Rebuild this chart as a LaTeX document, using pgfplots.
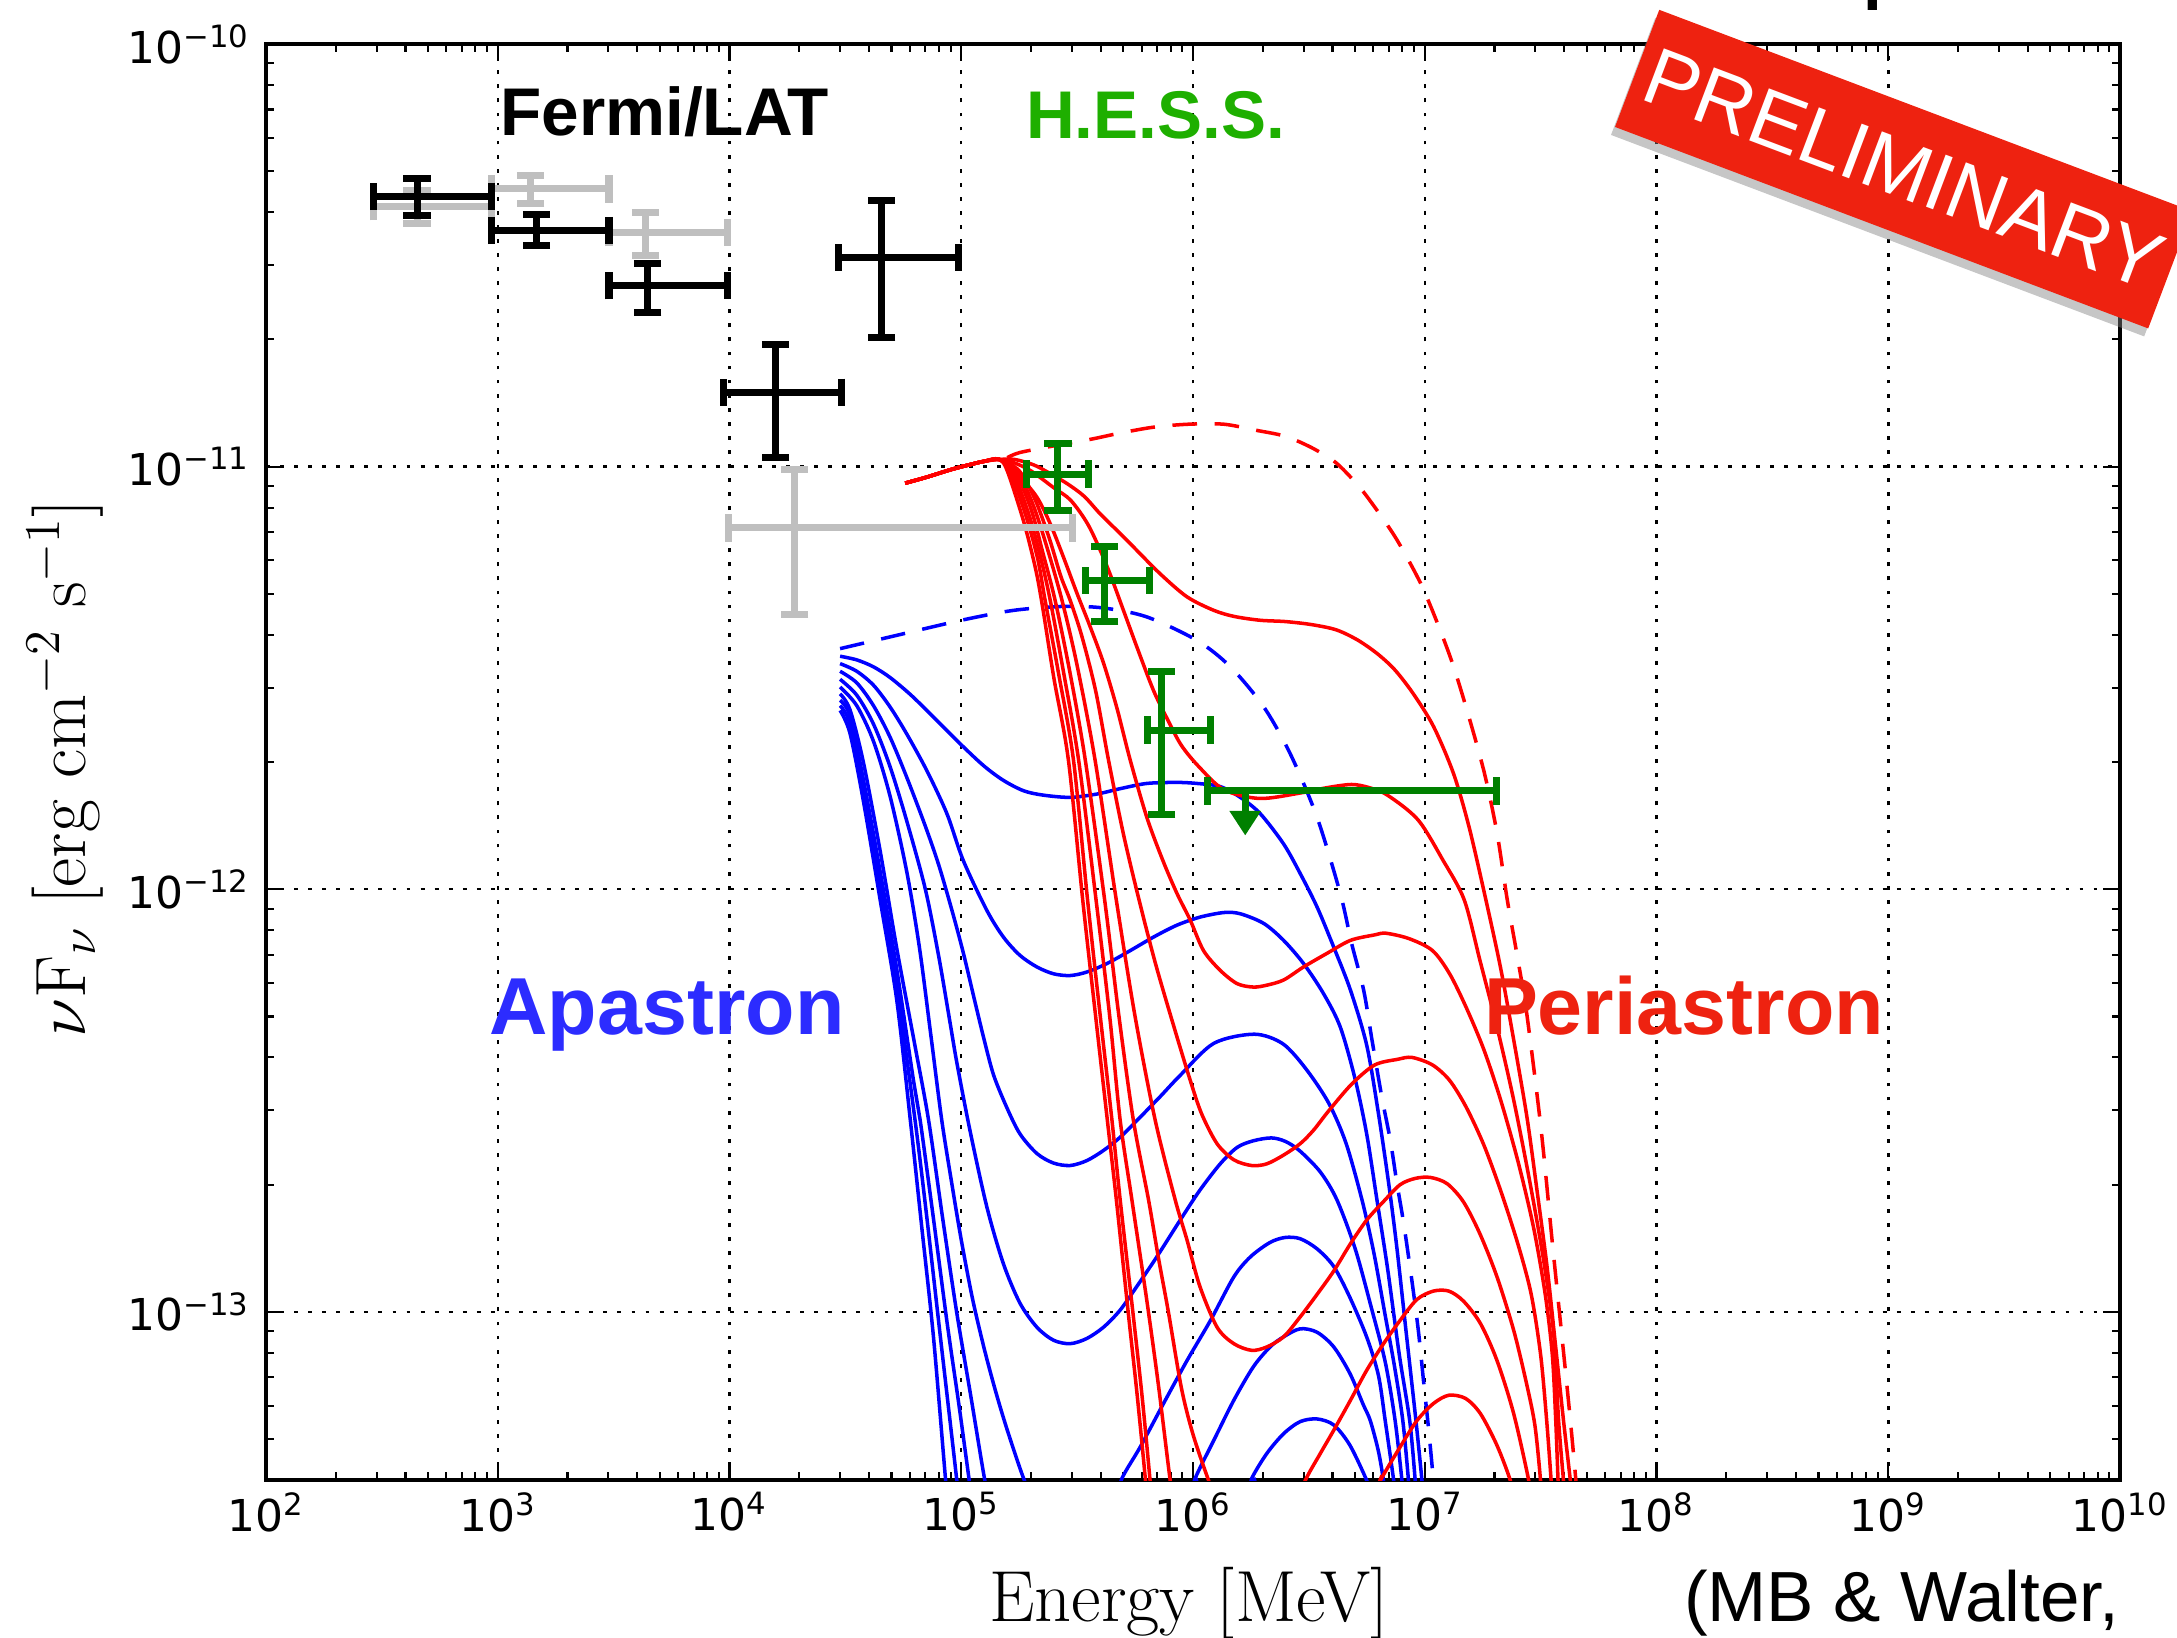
\documentclass[border=0pt]{standalone}
\usepackage{fix-cm}
\usepackage{fontspec}
\usepackage{pgfplots}
\pgfplotsset{compat=1.18}
\usetikzlibrary{arrows.meta,shadows}
\newfontfamily\helv{Liberation Sans}
\newfontfamily\dejavu{DejaVu Sans}
\definecolor{hessg}{RGB}{30,175,0}
\definecolor{apblue}{RGB}{44,44,255}
\definecolor{perired}{RGB}{238,34,16}
\definecolor{mplgreen}{RGB}{0,128,0}
\definecolor{mplgray}{RGB}{191,191,191}
\pgfplotsset{
  bl/.style={color=blue, line width=1.0pt, smooth, tension=0.5},
  rd/.style={color=red, line width=1.0pt, smooth, tension=0.5},
  errpt/.style={only marks, mark=*, mark size=0pt, line width=2.0pt,
    error bars/.cd, x dir=both, x explicit, y dir=both, y explicit,
    error bar style={line width=2.0pt},
    error mark options={rotate=90, line width=2.0pt, mark size=3.9pt}},
}
\begin{document}
\begin{tikzpicture}
\useasboundingbox (0,0) rectangle (217.7mm,163.8mm);
\begin{axis}[
  at={(26.6mm,15.8mm)}, anchor=south west,
  width=185.4mm, height=143.6mm, scale only axis,
  xmode=log, ymode=log,
  xmin=1e2, xmax=1e10, ymin=4e-14, ymax=1e-10,
  xtick={1e2,1e3,1e4,1e5,1e6,1e7,1e8,1e9,1e10},
  xticklabels={10\textsuperscript{2},10\textsuperscript{3},10\textsuperscript{4},10\textsuperscript{5},10\textsuperscript{6},10\textsuperscript{7},10\textsuperscript{8},10\textsuperscript{9},10\textsuperscript{10}},
  ytick={1e-13,1e-12,1e-11,1e-10},
  yticklabels={10\textsuperscript{−13},10\textsuperscript{−12},10\textsuperscript{−11},10\textsuperscript{−10}},
  minor xtick={2e2,3e2,4e2,5e2,6e2,7e2,8e2,9e2,2e3,3e3,4e3,5e3,6e3,7e3,8e3,9e3,2e4,3e4,4e4,5e4,6e4,7e4,8e4,9e4,2e5,3e5,4e5,5e5,6e5,7e5,8e5,9e5,2e6,3e6,4e6,5e6,6e6,7e6,8e6,9e6,2e7,3e7,4e7,5e7,6e7,7e7,8e7,9e7,2e8,3e8,4e8,5e8,6e8,7e8,8e8,9e8,2e9,3e9,4e9,5e9,6e9,7e9,8e9,9e9},
  minor ytick={5e-14,6e-14,7e-14,8e-14,9e-14,2e-13,3e-13,4e-13,5e-13,6e-13,7e-13,8e-13,9e-13,2e-12,3e-12,4e-12,5e-12,6e-12,7e-12,8e-12,9e-12,2e-11,3e-11,4e-11,5e-11,6e-11,7e-11,8e-11,9e-11},
  tick label style={font=\fontsize{12.5}{14}\dejavu},
  yticklabel style={xshift=-1pt},
  tick align=inside,
  major tick length=4.8pt, minor tick length=2.4pt,
  every tick/.style={black, line width=0.6pt},
  axis line style={line width=1.1pt},
  xmajorgrids, ymajorgrids,
  major grid style={black, line width=0.7pt, dash pattern=on 1.1pt off 2.9pt},
  xlabel={Energy [MeV]},
  xlabel style={font=\fontsize{20.6}{22}\selectfont, at={(axis description cs:0.4978,-0.0987)}, anchor=base},
  ylabel={$\nu\mathrm{F}_\nu\ [\mathrm{erg\ cm^{-2}\ s^{-1}}]$},
  ylabel style={font=\fontsize{20.3}{22}\selectfont, at={(axis description cs:-0.0976,0.4955)}, anchor=base},
]
% ---------------- blue (apastron) ----------------
\addplot[bl, dash pattern=on 7pt off 5pt] coordinates {(3.0e4,3.71e-12) (5.27e4,3.99e-12) (1.0e5,4.33e-12) (1.68e5,4.57e-12) (2.76e5,4.67e-12) (4.11e5,4.63e-12) (6.32e5,4.41e-12) (1.04e6,3.88e-12) (1.45e6,3.36e-12) (2.02e6,2.70e-12) (2.63e6,2.09e-12) (3.43e6,1.48e-12) (4.32e6,9.77e-13) (4.84e6,7.43e-13) (5.45e6,5.77e-13) (5.92e6,4.40e-13) (6.53e6,3.22e-13) (7.10e6,2.55e-13) (7.59e6,2.01e-13) (8.11e6,1.62e-13) (8.81e6,1.18e-13) (9.40e6,8.95e-14) (9.89e6,6.82e-14) (1.04e7,5.25e-14) (1.09e7,3.98e-14) (1.11e7,3.39e-14)};
\addplot[bl] coordinates {(3.0e4,3.56e-12) (3.54e4,3.49e-12) (4.18e4,3.36e-12) (4.93e4,3.17e-12) (6.03e4,2.89e-12) (7.35e4,2.60e-12) (9.89e4,2.21e-12) (1.25e5,1.96e-12) (1.52e5,1.81e-12) (1.86e5,1.71e-12) (2.26e5,1.67e-12) (2.95e5,1.65e-12) (3.85e5,1.68e-12) (4.85e5,1.73e-12) (6.32e5,1.78e-12) (8.51e5,1.79e-12) (1.04e6,1.78e-12) (1.31e6,1.75e-12) (1.60e6,1.65e-12) (1.95e6,1.51e-12) (2.46e6,1.28e-12) (2.90e6,1.09e-12) (3.43e6,9.08e-13) (4.05e6,7.29e-13) (4.78e6,5.77e-13) (5.62e6,4.27e-13) (6.31e6,2.95e-13) (7.00e6,2.00e-13) (7.59e6,1.41e-13) (8.32e6,8.91e-14) (9.16e6,5.53e-14) (9.73e6,3.98e-14) (9.89e6,3.55e-14)};
\addplot[bl] coordinates {(3.0e4,3.42e-12) (3.54e4,3.28e-12) (4.18e4,3.04e-12) (4.93e4,2.70e-12) (5.82e4,2.33e-12) (7.10e4,1.91e-12) (8.67e4,1.51e-12) (1.02e5,1.17e-12) (1.29e5,8.91e-13) (1.52e5,7.71e-13) (1.79e5,6.98e-13) (2.12e5,6.55e-13) (2.50e5,6.31e-13) (2.95e5,6.25e-13) (3.48e5,6.37e-13) (4.25e5,6.67e-13) (5.36e5,7.16e-13) (6.76e5,7.71e-13) (8.51e5,8.22e-13) (1.07e6,8.59e-13) (1.36e6,8.81e-13) (1.60e6,8.75e-13) (2.02e6,8.30e-13) (2.46e6,7.57e-13) (3.00e6,6.67e-13) (3.66e6,5.66e-13) (4.32e6,4.72e-13) (5.01e6,3.55e-13) (5.62e6,2.63e-13) (6.22e6,1.84e-13) (6.92e6,1.26e-13) (7.76e6,7.94e-14) (8.61e6,5.53e-14) (9.10e6,3.98e-14) (9.23e6,3.55e-14)};
\addplot[bl] coordinates {(3.0e4,3.28e-12) (3.54e4,3.08e-12) (4.18e4,2.72e-12) (4.93e4,2.29e-12) (5.82e4,1.84e-12) (7.00e4,1.41e-12) (8.00e4,1.14e-12) (9.12e4,8.91e-13) (1.02e5,7.08e-13) (1.15e5,5.37e-13) (1.26e5,4.37e-13) (1.38e5,3.63e-13) (1.57e5,3.05e-13) (1.79e5,2.64e-13) (2.12e5,2.37e-13) (2.50e5,2.25e-13) (2.95e5,2.22e-13) (3.48e5,2.28e-13) (4.11e5,2.41e-13) (4.85e5,2.59e-13) (5.92e5,2.89e-13) (7.21e5,3.23e-13) (8.81e5,3.63e-13) (1.23e6,4.32e-13) (1.84e6,4.54e-13) (2.44e6,4.31e-13) (3.07e6,3.76e-13) (3.85e6,3.12e-13) (4.57e6,2.51e-13) (5.36e6,1.84e-13) (6.03e6,1.38e-13) (6.76e6,9.77e-14) (7.41e6,7.41e-14) (8.04e6,5.53e-14) (8.51e6,3.98e-14) (8.61e6,3.55e-14)};
\addplot[bl] coordinates {(3.0e4,3.14e-12) (3.54e4,2.88e-12) (4.18e4,2.46e-12) (4.93e4,1.95e-12) (5.82e4,1.45e-12) (7.00e4,1.0e-12) (8.00e4,6.92e-13) (8.91e4,4.90e-13) (9.57e4,3.89e-13) (1.09e5,2.69e-13) (1.29e5,1.77e-13) (1.52e5,1.30e-13) (1.79e5,1.05e-13) (2.12e5,9.20e-14) (2.50e5,8.57e-14) (2.95e5,8.41e-14) (3.48e5,8.65e-14) (4.11e5,9.20e-14) (4.85e5,1.01e-13) (5.73e5,1.15e-13) (6.98e5,1.35e-13) (8.81e5,1.65e-13) (1.07e6,1.94e-13) (1.31e6,2.24e-13) (1.55e6,2.45e-13) (1.82e6,2.54e-13) (2.18e6,2.58e-13) (2.51e6,2.53e-13) (2.90e6,2.40e-13) (3.55e6,2.14e-13) (4.18e6,1.84e-13) (5.01e6,1.41e-13) (5.89e6,1.02e-13) (6.76e6,7.59e-14) (7.45e6,5.53e-14) (7.98e6,3.98e-14) (8.13e6,3.55e-14)};
\addplot[bl] coordinates {(3.0e4,3.01e-12) (3.54e4,2.72e-12) (4.18e4,2.24e-12) (4.93e4,1.66e-12) (5.82e4,1.10e-12) (6.61e4,7.24e-13) (7.41e4,4.47e-13) (8.24e4,2.84e-13) (9.12e4,2.00e-13) (1.0e5,1.48e-13) (1.12e5,1.07e-13) (1.26e5,8.13e-14) (1.41e5,6.46e-14) (1.58e5,5.25e-14) (1.86e5,4.03e-14) (2.14e5,3.39e-14) (2.95e5,2.51e-14) (4.47e5,3.39e-14) (4.93e5,4.03e-14) (5.92e5,4.79e-14) (7.46e5,6.07e-14) (9.42e5,7.67e-14) (1.19e6,9.55e-14) (1.50e6,1.21e-13) (1.77e6,1.35e-13) (2.15e6,1.46e-13) (2.50e6,1.50e-13) (2.90e6,1.49e-13) (3.43e6,1.41e-13) (4.05e6,1.28e-13) (4.76e6,1.08e-13) (5.62e6,8.71e-14) (6.31e6,7.08e-14) (6.75e6,5.53e-14) (7.35e6,3.98e-14) (7.50e6,3.55e-14)};
\addplot[bl] coordinates {(3.0e4,2.90e-12) (3.31e4,2.66e-12) (3.78e4,2.00e-12) (4.47e4,1.23e-12) (5.27e4,7.24e-13) (6.31e4,4.27e-13) (7.23e4,2.84e-13) (8.32e4,1.66e-13) (9.55e4,1.0e-13) (1.10e5,6.31e-14) (1.26e5,4.03e-14) (1.38e5,3.16e-14) (3.16e5,1.0e-14) (9.55e5,3.55e-14) (1.02e6,4.03e-14) (1.23e6,4.97e-14) (1.50e6,6.18e-14) (1.82e6,7.41e-14) (2.15e6,8.26e-14) (2.46e6,8.73e-14) (2.90e6,9.12e-14) (3.43e6,8.95e-14) (4.05e6,8.26e-14) (4.76e6,7.14e-14) (5.43e6,6.03e-14) (5.82e6,5.53e-14) (6.31e6,4.68e-14) (6.64e6,3.98e-14) (6.76e6,3.55e-14)};
\addplot[bl] coordinates {(3.0e4,2.80e-12) (3.31e4,2.57e-12) (3.78e4,1.82e-12) (4.47e4,1.10e-12) (5.27e4,6.46e-13) (6.22e4,3.53e-13) (6.65e4,2.84e-13) (7.59e4,1.66e-13) (8.71e4,9.33e-14) (9.77e4,6.03e-14) (1.08e5,4.03e-14) (1.15e5,3.16e-14) (3.98e5,1.0e-14) (1.66e6,3.55e-14) (1.79e6,4.03e-14) (2.08e6,4.62e-14) (2.46e6,5.15e-14) (2.90e6,5.50e-14) (3.43e6,5.58e-14) (4.05e6,5.40e-14) (4.76e6,4.83e-14) (5.62e6,3.99e-14) (5.82e6,3.72e-14)};
\addplot[bl] coordinates {(3.0e4,2.72e-12) (3.31e4,2.46e-12) (3.78e4,1.71e-12) (4.47e4,1.01e-12) (5.27e4,5.87e-13) (6.32e4,2.84e-13) (7.08e4,1.70e-13) (8.13e4,8.71e-14) (9.55e4,4.03e-14) (1.0e5,3.16e-14)};
\addplot[bl] coordinates {(3.0e4,2.65e-12) (3.31e4,2.34e-12) (3.78e4,1.62e-12) (4.47e4,9.42e-13) (5.27e4,5.46e-13) (6.03e4,2.84e-13) (6.76e4,1.58e-13) (7.59e4,8.71e-14) (8.55e4,4.03e-14) (8.91e4,3.16e-14)};
% ---------------- red (periastron) ----------------
\addplot[rd, dash pattern=on 7pt off 5pt] coordinates {(1.58e5,1.05e-11) (1.79e5,1.08e-11) (2.51e5,1.12e-11) (3.60e5,1.16e-11) (4.82e5,1.20e-11) (6.76e5,1.24e-11) (9.55e5,1.26e-11) (1.36e6,1.26e-11) (1.86e6,1.22e-11) (2.50e6,1.18e-11) (3.24e6,1.11e-11) (4.06e6,1.03e-11) (4.79e6,9.44e-12) (5.64e6,8.49e-12) (7.45e6,6.82e-12) (9.59e6,5.30e-12) (1.15e7,4.18e-12) (1.33e7,3.37e-12) (1.55e7,2.56e-12) (1.81e7,1.88e-12) (2.05e7,1.36e-12) (2.27e7,9.44e-13) (2.51e7,6.92e-13) (2.76e7,5.04e-13) (3.18e7,2.69e-13) (3.56e7,1.44e-13) (4.00e7,7.71e-14) (4.25e7,5.53e-14) (4.49e7,3.98e-14) (4.58e7,3.39e-14)};
\addplot[rd] coordinates {(5.73e4,9.14e-12) (7.08e4,9.44e-12) (8.91e4,9.82e-12) (1.08e5,1.01e-11) (1.26e5,1.03e-11) (1.46e5,1.04e-11) (1.70e5,1.04e-11) (2.05e5,1.01e-11) (2.34e5,9.73e-12) (2.86e5,9.12e-12) (3.39e5,8.51e-12) (3.97e5,7.74e-12) (4.68e5,7.08e-12) (5.53e5,6.46e-12) (7.21e5,5.58e-12) (9.42e5,4.92e-12) (1.23e6,4.57e-12) (1.51e6,4.42e-12) (1.95e6,4.33e-12) (2.50e6,4.30e-12) (3.24e6,4.23e-12) (4.15e6,4.11e-12) (5.13e6,3.89e-12) (6.24e6,3.61e-12) (7.41e6,3.31e-12) (8.89e6,2.91e-12) (1.09e7,2.43e-12) (1.33e7,1.88e-12) (1.55e7,1.41e-12) (1.81e7,9.77e-13) (2.12e7,6.55e-13) (2.42e7,4.40e-13) (2.76e7,2.89e-13) (3.05e7,1.94e-13) (3.37e7,1.28e-13) (3.66e7,8.41e-14) (3.97e7,5.53e-14) (4.25e7,3.98e-14) (4.32e7,3.55e-14)};
\addplot[rd] coordinates {(5.73e4,9.14e-12) (7.08e4,9.44e-12) (8.91e4,9.82e-12) (1.08e5,1.01e-11) (1.26e5,1.03e-11) (1.46e5,1.04e-11) (1.70e5,1.02e-11) (2.00e5,9.77e-12) (2.51e5,8.91e-12) (2.97e5,8.32e-12) (3.55e5,7.24e-12) (4.25e5,5.82e-12) (5.01e5,4.57e-12) (5.75e5,3.72e-12) (6.76e5,2.95e-12) (7.80e5,2.51e-12) (8.91e5,2.19e-12) (1.06e6,1.95e-12) (1.36e6,1.72e-12) (1.94e6,1.64e-12) (2.91e6,1.69e-12) (3.80e6,1.74e-12) (4.84e6,1.77e-12) (5.75e6,1.74e-12) (6.90e6,1.67e-12) (9.35e6,1.46e-12) (1.20e7,1.17e-12) (1.48e7,9.44e-13) (1.73e7,6.79e-13) (2.05e7,4.72e-13) (2.42e7,3.17e-13) (2.85e7,2.01e-13) (3.26e7,1.32e-13) (3.60e7,8.87e-14) (3.78e7,5.53e-14) (3.97e7,3.98e-14) (4.03e7,3.55e-14)};
\addplot[rd] coordinates {(5.73e4,9.14e-12) (7.08e4,9.44e-12) (8.91e4,9.82e-12) (1.08e5,1.01e-11) (1.26e5,1.03e-11) (1.46e5,1.04e-11) (1.79e5,9.46e-12) (2.12e5,8.47e-12) (2.42e5,7.33e-12) (2.76e5,6.11e-12) (3.16e5,5.01e-12) (3.60e5,4.18e-12) (4.11e5,3.43e-12) (4.69e5,2.69e-12) (5.36e5,2.02e-12) (6.32e5,1.48e-12) (7.41e5,1.17e-12) (8.53e5,9.77e-13) (9.73e5,8.45e-13) (1.11e6,7.16e-13) (1.31e6,6.43e-13) (1.55e6,5.98e-13) (1.82e6,5.87e-13) (2.08e6,5.93e-13) (2.46e6,6.10e-13) (3.00e6,6.55e-13) (3.78e6,7.05e-13) (4.78e6,7.57e-13) (6.08e6,7.80e-13) (6.81e6,7.87e-13) (8.57e6,7.64e-13) (1.08e7,7.16e-13) (1.28e7,6.31e-13) (1.51e7,5.25e-13) (1.80e7,4.17e-13) (2.13e7,3.16e-13) (2.53e7,2.26e-13) (2.95e7,1.58e-13) (3.31e7,1.10e-13) (3.55e7,7.94e-14) (3.67e7,5.62e-14) (3.76e7,3.98e-14) (3.80e7,3.40e-14)};
\addplot[rd] coordinates {(5.73e4,9.14e-12) (7.08e4,9.44e-12) (8.91e4,9.82e-12) (1.08e5,1.01e-11) (1.26e5,1.03e-11) (1.46e5,1.04e-11) (1.78e5,9.77e-12) (2.09e5,8.32e-12) (2.40e5,6.76e-12) (2.69e5,5.50e-12) (2.95e5,4.83e-12) (3.31e5,3.98e-12) (3.80e5,2.95e-12) (4.32e5,2.02e-12) (5.01e5,1.35e-12) (5.86e5,9.40e-13) (6.92e5,6.61e-13) (8.32e5,4.68e-13) (9.73e5,3.53e-13) (1.09e6,2.94e-13) (1.27e6,2.50e-13) (1.50e6,2.29e-13) (1.79e6,2.22e-13) (2.08e6,2.24e-13) (2.46e6,2.35e-13) (2.90e6,2.50e-13) (3.31e6,2.69e-13) (3.85e6,2.99e-13) (4.84e6,3.46e-13) (6.08e6,3.84e-13) (7.64e6,3.96e-13) (8.81e6,4.00e-13) (1.08e7,3.84e-13) (1.28e7,3.53e-13) (1.51e7,3.05e-13) (1.80e7,2.48e-13) (2.13e7,1.93e-13) (2.53e7,1.44e-13) (2.88e7,1.10e-13) (3.16e7,7.94e-14) (3.35e7,5.62e-14) (3.51e7,3.98e-14) (3.55e7,3.40e-14)};
\addplot[rd] coordinates {(5.73e4,9.14e-12) (7.08e4,9.44e-12) (8.91e4,9.82e-12) (1.08e5,1.01e-11) (1.26e5,1.03e-11) (1.46e5,1.04e-11) (1.74e5,9.77e-12) (2.04e5,8.13e-12) (2.34e5,6.46e-12) (2.72e5,4.83e-12) (3.16e5,3.39e-12) (3.78e5,2.02e-12) (4.67e5,9.40e-13) (5.62e5,5.01e-13) (6.87e5,2.84e-13) (8.38e5,1.84e-13) (9.42e5,1.48e-13) (1.07e6,1.15e-13) (1.27e6,9.20e-14) (1.50e6,8.41e-14) (1.79e6,8.11e-14) (2.08e6,8.26e-14) (2.46e6,8.73e-14) (2.90e6,9.73e-14) (3.43e6,1.10e-13) (4.05e6,1.25e-13) (4.78e6,1.45e-13) (5.62e6,1.65e-13) (6.61e6,1.82e-13) (7.83e6,2.00e-13) (9.12e6,2.07e-13) (1.06e7,2.08e-13) (1.25e7,2.01e-13) (1.47e7,1.82e-13) (1.73e7,1.53e-13) (2.05e7,1.21e-13) (2.42e7,9.04e-14) (2.75e7,6.76e-14) (2.99e7,5.37e-14) (3.16e7,3.98e-14) (3.20e7,3.40e-14)};
\addplot[rd] coordinates {(5.73e4,9.14e-12) (7.08e4,9.44e-12) (8.91e4,9.82e-12) (1.08e5,1.01e-11) (1.26e5,1.03e-11) (1.46e5,1.04e-11) (1.70e5,9.77e-12) (2.00e5,7.94e-12) (2.24e5,6.31e-12) (2.54e5,4.83e-12) (2.95e5,3.24e-12) (3.43e5,2.02e-12) (4.16e5,9.40e-13) (4.79e5,5.01e-13) (5.53e5,2.84e-13) (6.43e5,1.84e-13) (7.08e5,1.35e-13) (7.83e5,1.0e-13) (8.91e5,6.61e-14) (1.0e6,5.13e-14) (1.17e6,3.98e-14) (1.32e6,3.39e-14) (2.0e6,2.0e-14) (2.82e6,3.47e-14) (3.05e6,3.99e-14) (3.54e6,4.62e-14) (4.05e6,5.25e-14) (4.78e6,6.18e-14) (5.62e6,7.28e-14) (6.64e6,8.41e-14) (7.83e6,9.55e-14) (9.25e6,1.07e-13) (1.09e7,1.12e-13) (1.27e7,1.12e-13) (1.47e7,1.06e-13) (1.74e7,9.38e-14) (2.05e7,7.67e-14) (2.42e7,5.74e-14) (2.81e7,3.99e-14) (2.88e7,3.55e-14)};
\addplot[rd] coordinates {(5.73e4,9.14e-12) (7.08e4,9.44e-12) (8.91e4,9.82e-12) (1.08e5,1.01e-11) (1.26e5,1.03e-11) (1.46e5,1.04e-11) (1.66e5,9.77e-12) (1.95e5,7.76e-12) (2.19e5,6.17e-12) (2.42e5,4.83e-12) (2.75e5,3.31e-12) (3.21e5,2.02e-12) (3.82e5,9.40e-13) (4.37e5,5.01e-13) (4.85e5,2.84e-13) (5.45e5,1.84e-13) (6.31e5,1.07e-13) (7.08e5,6.76e-14) (7.98e5,3.98e-14) (8.51e5,3.16e-14) (2.51e6,1.0e-14) (6.03e6,3.63e-14) (6.43e6,3.99e-14) (7.83e6,4.79e-14) (9.25e6,5.53e-14) (1.09e7,6.07e-14) (1.27e7,6.35e-14) (1.50e7,6.24e-14) (1.74e7,5.74e-14) (2.05e7,4.83e-14) (2.34e7,3.99e-14) (2.43e7,3.55e-14)};
\addplot[rd] coordinates {(5.73e4,9.14e-12) (7.08e4,9.44e-12) (8.91e4,9.82e-12) (1.08e5,1.01e-11) (1.26e5,1.03e-11) (1.46e5,1.04e-11) (1.62e5,9.77e-12) (1.91e5,7.59e-12) (2.14e5,6.03e-12) (2.30e5,4.83e-12) (2.63e5,3.24e-12) (3.05e5,2.02e-12) (3.51e5,9.40e-13) (3.98e5,5.01e-13) (4.47e5,2.84e-13) (4.85e5,1.84e-13) (5.50e5,1.0e-13) (6.03e5,6.31e-14) (6.53e5,3.98e-14) (6.76e5,3.16e-14)};
\addplot[rd] coordinates {(5.73e4,9.14e-12) (7.08e4,9.44e-12) (8.91e4,9.82e-12) (1.08e5,1.01e-11) (1.26e5,1.03e-11) (1.46e5,1.04e-11) (1.58e5,9.77e-12) (1.86e5,7.41e-12) (2.09e5,5.75e-12) (2.24e5,4.68e-12) (2.51e5,3.16e-12) (2.90e5,2.02e-12) (3.35e5,9.33e-13) (3.80e5,5.01e-13) (4.27e5,2.84e-13) (4.68e5,1.82e-13) (5.25e5,1.0e-13) (5.75e5,6.31e-14) (6.24e5,3.98e-14) (6.46e5,3.16e-14)};
% ---------------- Fermi/LAT ----------------
\addplot[mplgray, errpt] coordinates {
 (449,4.12e-11) += (493,0.39e-11) -= (157,0.36e-11)
 (1387,4.54e-11) += (1633,0.35e-11) -= (445,0.34e-11)
 (4340,3.58e-11) += (5430,0.42e-11) -= (1320,0.42e-11)
 (1.91e4,7.16e-12) += (2.839e5,2.71e-12) -= (9200,2.68e-12)
};
\addplot[black, errpt] coordinates {
 (449,4.36e-11) += (493,0.44e-11) -= (157,0.43e-11)
 (1470,3.62e-11) += (1550,0.33e-11) -= (528,0.29e-11)
 (4430,2.68e-11) += (5340,0.34e-11) -= (1410,0.37e-11)
 (1.58e4,1.50e-11) += (14500,0.45e-11) -= (6400,0.45e-11)
 (4.53e4,3.13e-11) += (51700,1.14e-11) -= (15900,1.11e-11)
};
% ---------------- H.E.S.S. ----------------
\addplot[mplgreen, errpt] coordinates {
 (2.61e5,9.6e-12) += (9.2e4,1.73e-12) -= (6.9e4,1.71e-12)
 (4.16e5,5.38e-12) += (2.34e5,1.08e-12) -= (7.1e4,1.09e-12)
 (7.33e5,2.38e-12) += (4.57e5,0.89e-12) -= (9.9e4,0.88e-12)
};
\addplot[mplgreen, only marks, mark=*, mark size=0pt, line width=2.0pt, error bars/.cd, x dir=both, x explicit,
  error bar style={line width=2.0pt}, error mark options={rotate=90, line width=2.0pt, mark size=3.9pt}]
  coordinates {(1.68e6,1.71e-12) += (1.872e7,0) -= (5.2e5,0)};
\addplot[mplgreen, line width=2.0pt, -{Triangle[width=8.5pt,length=7pt]}] coordinates {(1.68e6,1.71e-12) (1.68e6,1.34e-12)};
% ---------------- annotations ----------------
\node[anchor=base west, inner sep=0pt, font=\fontsize{19.2}{21}\helv\bfseries] at (axis cs:1.02e3,6.09e-11) {Fermi/LAT};
\node[anchor=base west, inner sep=0pt, text=hessg, font=\fontsize{19.2}{21}\helv\bfseries] at (axis cs:1.89e5,5.97e-11) {H.E.S.S.};
\node[anchor=base west, inner sep=0pt, text=apblue, font=\fontsize{23}{25}\helv\bfseries] at (axis cs:916,4.54e-13) {Apastron};
\node[anchor=base west, inner sep=0pt, text=perired, font=\fontsize{23}{25}\helv\bfseries] at (axis cs:1.79e7,4.54e-13) {Periastron};
\end{axis}
\node[anchor=base east, inner sep=0pt, font=\fontsize{20.2}{22}\helv] at (212.0mm,1.63mm) {(MB \& Walter,};
\node[anchor=base west, inner sep=0pt, font=\fontsize{19.2}{21}\helv\bfseries] at (186.3mm,164.1mm) {p};
\node[rotate=-20.7, fill=perired, minimum width=57.0mm, minimum height=12.52mm, inner sep=0pt,
  drop shadow={shadow xshift=-0.4mm, shadow yshift=-0.8mm, opacity=0.45},
  text=white, font=\fontsize{23}{25}\helv] at (190.37mm,146.885mm) {PRELIMINARY};
\end{tikzpicture}
\end{document}
